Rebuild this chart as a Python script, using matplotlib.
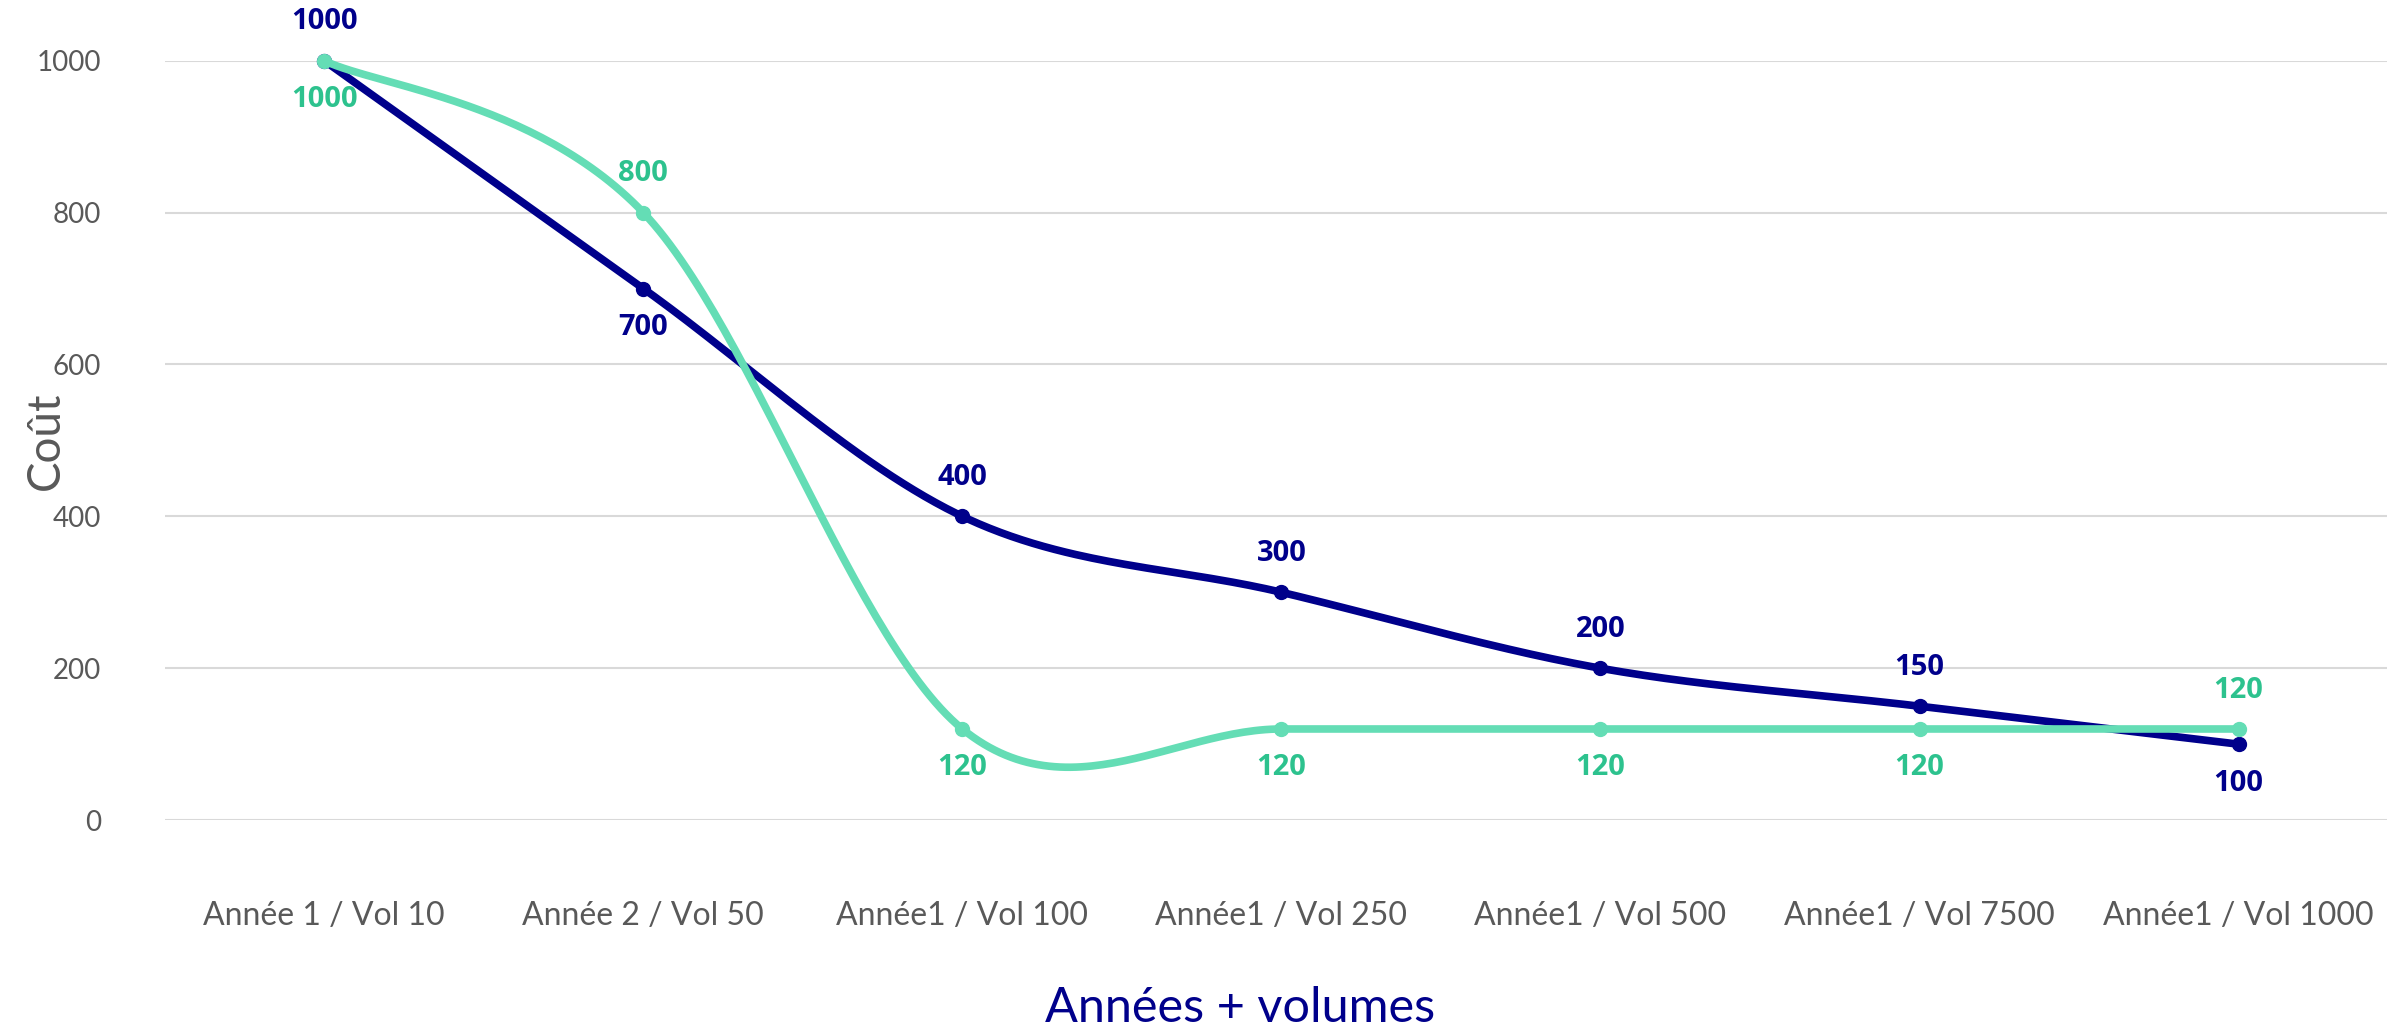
import numpy as np
import matplotlib.pyplot as plt

plt.rcParams['font.family'] = ['Lato', 'DejaVu Sans']

# Data
categories = ['Année 1 / Vol 10', 'Année 2 / Vol 50', 'Année1 / Vol 100', 'Année1 / Vol 250',
              'Année1 / Vol 500', 'Année1 / Vol 7500', 'Année1 / Vol 1000']
serie_navy = [1000, 700, 400, 300, 200, 150, 100]
serie_green = [1000, 800, 120, 120, 120, 120, 120]
# label position: 1 above, -1 below
pos_navy = [1, -1, 1, 1, 1, 1, -1]
pos_green = [-1, 1, -1, -1, -1, -1, 1]

NAVY = '#00008B'
GREEN_LINE = '#64DDB5'
GREEN_TXT = '#2DC28E'
GRAY = '#595959'


def smooth(xs, ys, n=60):
    # Catmull-Rom style bezier, like Excel's smoothed lines
    p = np.column_stack([xs, ys]).astype(float)
    p = np.vstack([p[0], p, p[-1]])
    out = []
    for i in range(1, len(p) - 2):
        p0, p1, p2, p3 = p[i - 1], p[i], p[i + 1], p[i + 2]
        c1 = p1 + (p2 - p0) / 6
        c2 = p2 - (p3 - p1) / 6
        t = np.linspace(0, 1, n)[:, None]
        seg = (1 - t) ** 3 * p1 + 3 * (1 - t) ** 2 * t * c1 + 3 * (1 - t) * t ** 2 * c2 + t ** 3 * p2
        out.append(seg)
    out = np.vstack(out)
    return out[:, 0], out[:, 1]


fig = plt.figure(figsize=(23.87, 10.29), dpi=100)
ax = fig.add_axes([0.069, 0.203, 0.933, 0.738])

x = np.arange(len(categories))

for ys, lc, tc, pos, z in [(serie_navy, NAVY, NAVY, pos_navy, 3),
                           (serie_green, GREEN_LINE, GREEN_TXT, pos_green, 4)]:
    sx, sy = smooth(x, ys)
    ax.plot(sx, sy, color=lc, lw=5.5, solid_capstyle='round', zorder=z, clip_on=False)
    ax.plot(x, ys, 'o', color=lc, ms=10, zorder=z, clip_on=False)
    for xi, yi, p in zip(x, ys, pos):
        ax.annotate(str(yi), (xi, yi), xytext=(0, 28 * p), textcoords='offset points',
                    ha='center', va='center', color=tc, fontsize=21, fontweight='bold',
                    family=['Open Sans', 'DejaVu Sans'])

ax.set_xlim(-0.5, 6.48)
ax.set_ylim(0, 1000)
ax.set_yticks([0, 200, 400, 600, 800, 1000])
ax.set_xticks(x)
ax.set_xticklabels(categories)
ax.tick_params(axis='x', length=0, pad=58, labelsize=23, labelcolor=GRAY)
ax.tick_params(axis='y', length=0, pad=46, labelsize=20, labelcolor=GRAY)

ax.grid(axis='y', color='#D9D9D9', lw=1.5)
ax.set_axisbelow(True)
for s in ax.spines.values():
    s.set_visible(False)

fig.text(46 / 2387, 1 - 441 / 1029, 'Coût', rotation=90, fontsize=33, color=GRAY,
         ha='center', va='center')
fig.text(1240 / 2387, 1 - 1008 / 1029, 'Années + volumes', fontsize=35, color=NAVY,
         ha='center', va='center')

fig.savefig('out.png', dpi=100)
